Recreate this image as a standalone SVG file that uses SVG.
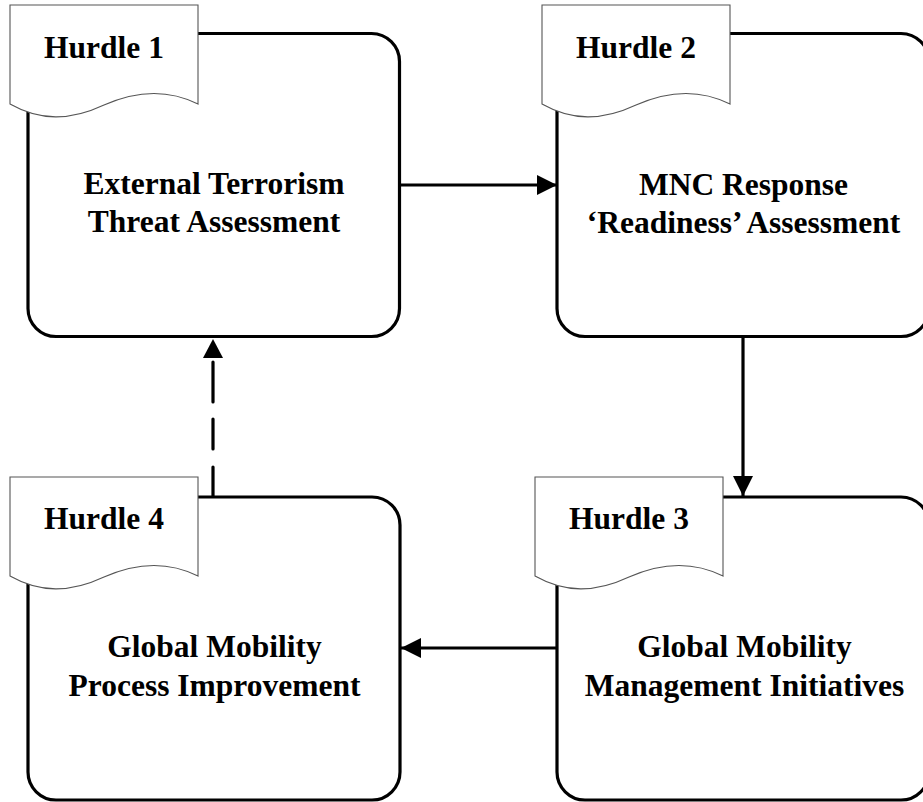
<svg xmlns="http://www.w3.org/2000/svg" xmlns:xlink="http://www.w3.org/1999/xlink" width="923" height="802" viewBox="0 0 923 802">
  <style>
    .box { fill: #ffffff; stroke: #000000; stroke-width: 3.2; }
    .tag { fill: #ffffff; stroke: #555555; stroke-width: 1.1; }
    .t { font-family: "Liberation Serif", "Times New Roman", serif; font-weight: bold; font-size: 31.5px; fill: #000000; }
    .mid { text-anchor: middle; }
    .conn { fill: none; stroke: #000000; stroke-width: 3.2; }
    .dash { stroke-dasharray: 30 18 30 17 40 100; stroke-linecap: round; }
  </style>
  <defs>
    <path id="tagShape" d="M0,0 H188 V99 C160,85 130,84 94,100 C60,116 30,116 0,99 Z"/>
    <marker id="arr" viewBox="0 0 20 20" refX="20" refY="10" markerWidth="20" markerHeight="20" markerUnits="userSpaceOnUse" orient="auto">
      <path d="M0,0 L20,10 L0,20 Z" fill="#000000"/>
    </marker>
  </defs>

  <g id="connectors">
    <path class="conn" d="M400,185 H557" marker-end="url(#arr)"/>
    <path class="conn" d="M743,338 V496" marker-end="url(#arr)"/>
    <path class="conn" d="M557,648 H401" marker-end="url(#arr)"/>
    <path class="conn dash" d="M213,497 V362"/>
    <path d="M213,339 L223,358 L203,358 Z" fill="#000000"/>
  </g>

  <g id="hurdle1">
    <rect class="box" x="28" y="33.5" width="371.5" height="303" rx="28" ry="28"/>
    <use xlink:href="#tagShape" class="tag" x="10" y="5"/>
    <text class="t" x="44" y="58">Hurdle 1</text>
    <text class="t mid" x="214" y="194">External Terrorism</text>
    <text class="t mid" x="214" y="232">Threat Assessment</text>
  </g>

  <g id="hurdle2">
    <rect class="box" x="557" y="33.5" width="372" height="303" rx="28" ry="28"/>
    <use xlink:href="#tagShape" class="tag" x="542" y="5"/>
    <text class="t" x="576" y="58">Hurdle 2</text>
    <text class="t mid" x="743.5" y="195">MNC Response</text>
    <text class="t mid" x="743.5" y="233">‘Readiness’ Assessment</text>
  </g>

  <g id="hurdle3">
    <rect class="box" x="557" y="497" width="372" height="303" rx="28" ry="28"/>
    <use xlink:href="#tagShape" class="tag" x="535" y="477"/>
    <text class="t" x="569" y="529">Hurdle 3</text>
    <text class="t mid" x="744.5" y="657">Global Mobility</text>
    <text class="t mid" x="744.5" y="696">Management Initiatives</text>
  </g>

  <g id="hurdle4">
    <rect class="box" x="28" y="497" width="372" height="303" rx="28" ry="28"/>
    <use xlink:href="#tagShape" class="tag" x="10" y="477"/>
    <text class="t" x="44" y="529">Hurdle 4</text>
    <text class="t mid" x="214.5" y="657">Global Mobility</text>
    <text class="t mid" x="214.5" y="696">Process Improvement</text>
  </g>
</svg>
